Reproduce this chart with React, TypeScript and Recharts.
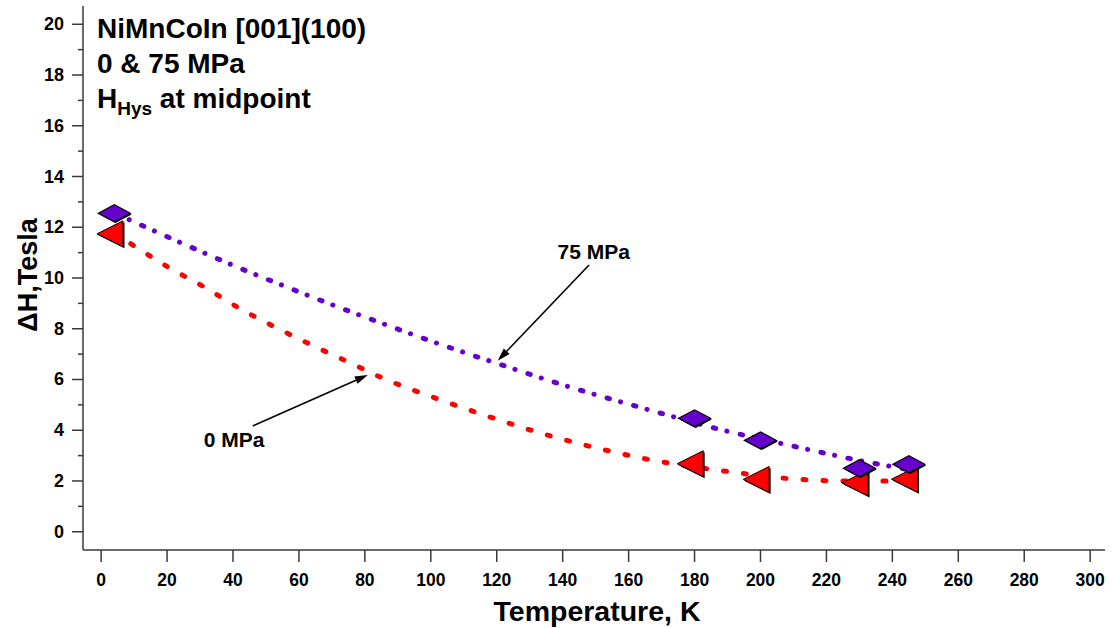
import { LineChart, Line, XAxis, YAxis, ReferenceLine, ReferenceDot } from 'recharts';

// measured points
const temps = [4, 180, 200, 230, 245];
const dh0 = [11.74, 2.68, 2.06, 1.92, 2.07];
const dh75 = [12.55, 4.47, 3.6, 2.5, 2.66];

// dotted trend curves
const fit75T = [8.5, 24, 40, 56, 72, 84, 103, 119, 142, 166, 189, 209, 233, 245];
const fit75V = [12.3, 11.4, 10.5, 9.66, 8.85, 8.27, 7.38, 6.68, 5.71, 4.81, 3.99, 3.4, 2.73, 2.45];
const fit0T = [9, 21, 32, 42, 53, 64, 75, 85, 102, 118, 134, 150, 166, 188, 209, 225, 246];
const fit0V = [11.35, 10.38, 9.59, 8.8, 8.05, 7.35, 6.69, 6.08, 5.24, 4.52, 3.86, 3.31, 2.85, 2.41, 2.09, 2.0, 2.0];

const xTicks = [0, 20, 40, 60, 80, 100, 120, 140, 160, 180, 200, 220, 240, 260, 280, 300];
const yTicks = [0, 1, 2, 3, 4, 5, 6, 7, 8, 9, 10, 11, 12, 13, 14, 15, 16, 17, 18, 19, 20];

const pts0 = temps.map((t, i) => ({ t, v: dh0[i] }));
const pts75 = temps.map((t, i) => ({ t, v: dh75[i] }));
const fit0 = fit0T.map((t, i) => ({ t, v: fit0V[i] }));
const fit75 = fit75T.map((t, i) => ({ t, v: fit75V[i] }));

const FONT = "Arial, 'Liberation Sans', sans-serif";
const AXIS = '#3a3a3a';
const PURPLE = '#6600cc';
const RED = '#ff0000';

function YTick({ x, y, payload }: any) {
  const major = payload.value % 2 === 0;
  return (
    <g>
      <line x1={x - (major ? 11 : 5)} x2={x} y1={y} y2={y} stroke={AXIS} strokeWidth={1.5} />
      {major && (
        <text x={x - 19} y={y} textAnchor="end" dominantBaseline="central"
          fontFamily={FONT} fontWeight="bold" fontSize={18} fill="#000">
          {payload.value}
        </text>
      )}
    </g>
  );
}

function XTick({ x, y, payload }: any) {
  return (
    <g>
      <line x1={x} x2={x} y1={y} y2={y + 12} stroke={AXIS} strokeWidth={1.5} />
      <text x={x} y={y + 30} textAnchor="middle" dominantBaseline="central"
        fontFamily={FONT} fontWeight="bold" fontSize={17.5} fill="#000">
        {payload.value}
      </text>
    </g>
  );
}

function Tri({ cx, cy }: any) {
  if (cx == null || cy == null) return <g />;
  const w = 26, h = 26;
  const p = (dx: number, dy: number) =>
    `${cx - (2 * w) / 3 + dx},${cy + dy} ${cx + w / 3 + dx},${cy - h / 2 + dy} ${cx + w / 3 + dx},${cy + h / 2 + dy}`;
  return (
    <g>
      <polygon points={p(1.5, 1.5)} fill="#000" />
      <polygon points={p(0, 0)} fill={RED} stroke="#000" strokeWidth={1} />
    </g>
  );
}

function Diamond({ cx, cy }: any) {
  if (cx == null || cy == null) return <g />;
  const w = 16, h = 8.5;
  const p = (dx: number, dy: number) =>
    `${cx - w + dx},${cy + dy} ${cx + dx},${cy - h + dy} ${cx + w + dx},${cy + dy} ${cx + dx},${cy + h + dy}`;
  return (
    <g>
      <polygon points={p(1.2, 1.2)} fill="#000" />
      <polygon points={p(0, 0)} fill={PURPLE} stroke="#000" strokeWidth={1.2} />
    </g>
  );
}

function Arrow(props: any) {
  const { x1, y1, x2, y2 } = props;
  if (x1 == null) return <g />;
  const a = Math.atan2(y2 - y1, x2 - x1);
  const L = 13, W = 4;
  const bx = x2 - L * Math.cos(a), by = y2 - L * Math.sin(a);
  const nx = -Math.sin(a) * W, ny = Math.cos(a) * W;
  return (
    <g>
      <line x1={x1} y1={y1} x2={bx} y2={by} stroke="#000" strokeWidth={1.6} />
      <polygon points={`${x2},${y2} ${bx + nx},${by + ny} ${bx - nx},${by - ny}`} fill="#000" />
    </g>
  );
}

const note = (txt: string) => (p: any) => (
  <text x={p.cx} y={p.cy} textAnchor="middle" dominantBaseline="central"
    fontFamily={FONT} fontWeight="bold" fontSize={21} fill="#000">
    {txt}
  </text>
);

export default function App() {
  return (
    <div style={{ position: 'relative', width: 1112, height: 628, background: '#fff' }}>
      <style>{'body{margin:0}'}</style>
      <LineChart width={1112} height={628} data={fit0}
        margin={{ top: 6, right: 7, bottom: 0, left: 0 }}>
        <XAxis dataKey="t" type="number" domain={[-5.5, 304.5]} ticks={xTicks}
          allowDataOverflow interval={0} height={78} tickSize={0} tickMargin={0}
          tickLine={false} tick={<XTick />} axisLine={{ stroke: AXIS, strokeWidth: 1.5 }} />
        <XAxis xAxisId="top" orientation="top" type="number" domain={[-5.5, 304.5]}
          height={0} tick={false} tickLine={false} axisLine={{ stroke: AXIS, strokeWidth: 1.5 }} />
        <YAxis type="number" domain={[-0.72, 20.72]} ticks={yTicks} allowDataOverflow interval={0}
          width={83} tickSize={0} tickMargin={0} tickLine={false} tick={<YTick />}
          axisLine={{ stroke: AXIS, strokeWidth: 1.5 }} />
        <YAxis yAxisId="right" orientation="right" type="number" domain={[-0.72, 20.72]}
          width={0} tick={false} tickLine={false} axisLine={{ stroke: AXIS, strokeWidth: 1.5 }} />

        <Line data={fit0} dataKey="v" type="monotone" stroke={RED} strokeWidth={5}
          strokeDasharray="3 17" strokeLinecap="round" dot={false} activeDot={false}
          isAnimationActive={false} />
        <Line data={pts0} dataKey="v" stroke="none" strokeWidth={0} activeDot={false}
          dot={(p: any) => <Tri key={`t${p.index}`} cx={p.cx} cy={p.cy} />} isAnimationActive={false} />
        <Line data={fit75} dataKey="v" type="monotone" stroke={PURPLE} strokeWidth={5}
          strokeDasharray="0.1 13.5 2.5 11.5" strokeLinecap="round" dot={false} activeDot={false}
          isAnimationActive={false} />
        <Line data={pts75} dataKey="v" stroke="none" strokeWidth={0} activeDot={false}
          dot={(p: any) => <Diamond key={`d${p.index}`} cx={p.cx} cy={p.cy} />} isAnimationActive={false} />

        <ReferenceLine segment={[{ x: 148.0, y: 10.51 }, { x: 120.3, y: 6.74 }]} shape={<Arrow />} />
        <ReferenceLine segment={[{ x: 46.0, y: 4.17 }, { x: 80.9, y: 6.18 }]} shape={<Arrow />} />
        <ReferenceDot x={149.4} y={11.04} r={0} shape={note('75 MPa')} />
        <ReferenceDot x={40.3} y={3.65} r={0} shape={note('0 MPa')} />
      </LineChart>

      <svg width={420} height={130} style={{ position: 'absolute', left: 0, top: 0 }}>
        <g fontFamily={FONT} fontWeight="bold" fontSize={28} fill="#000">
          <text x={97} y={38}>NiMnCoIn [001](100)</text>
          <text x={97} y={73}>0 &amp; 75 MPa</text>
          <text x={97} y={108}>
            H<tspan fontSize={19} dy={7}>Hys</tspan><tspan dy={-7}> at midpoint</tspan>
          </text>
        </g>
      </svg>
      <svg width={60} height={628} style={{ position: 'absolute', left: 0, top: 0 }}>
        <text x={28} y={275} transform="rotate(-90 28 275)" textAnchor="middle" dominantBaseline="central"
          fontFamily={FONT} fontWeight="bold" fontSize={27} fill="#000">ΔH,Tesla</text>
      </svg>
      <svg width={1112} height={40} style={{ position: 'absolute', left: 0, top: 590 }}>
        <text x={597} y={21} textAnchor="middle" dominantBaseline="central"
          fontFamily={FONT} fontWeight="bold" fontSize={28.5} fill="#000">Temperature, K</text>
      </svg>
    </div>
  );
}
